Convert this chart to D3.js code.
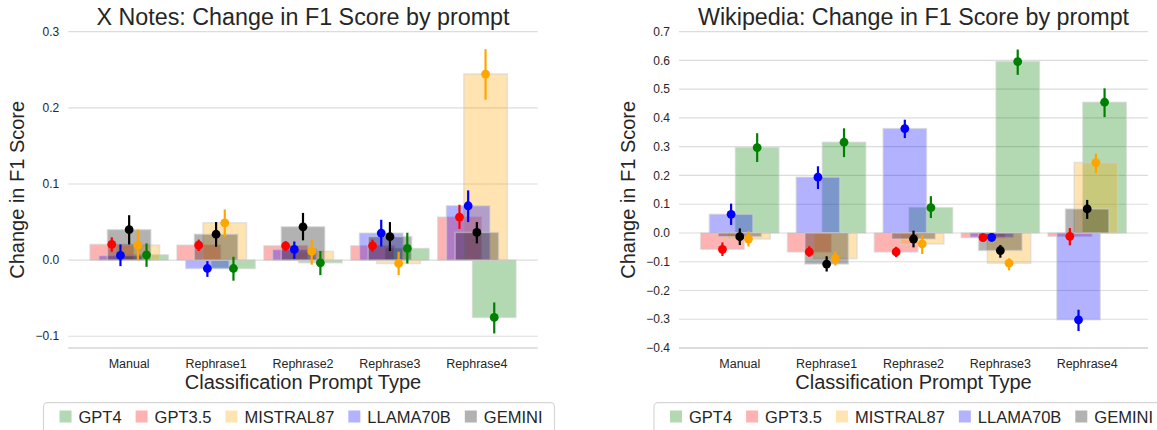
<!DOCTYPE html>
<html>
<head>
<meta charset="utf-8">
<script src="https://cdn.jsdelivr.net/npm/d3@7"></script>
<style>
  body { margin: 0; background: #fff; }
  svg { display: block; font-family: "Liberation Sans", Arial, sans-serif; }
</style>
</head>
<body>
<svg id="chart" width="1157" height="430"></svg>
<script>
// categories and series
const prompts = ["Manual", "Rephrase1", "Rephrase2", "Rephrase3", "Rephrase4"];
const models = ["GPT4", "GPT3.5", "MISTRAL87", "LLAMA70B", "GEMINI"];
const modelColors = ["green", "red", "orange", "blue", "black"];
// order of the bars inside a group, left to right
const dodgeOrder = ["GPT3.5", "LLAMA70B", "GEMINI", "MISTRAL87", "GPT4"];

// X Notes
const xnotesGPT4 = [0.007, -0.011, -0.0035, 0.0153, -0.0753];
const xnotesGPT35 = [0.0206, 0.0197, 0.0188, 0.0188, 0.0565];
const xnotesMistral = [0.0197, 0.049, 0.0114, -0.0044, 0.2444];
const xnotesLlama = [0.0061, -0.011, 0.014, 0.0355, 0.0714];
const xnotesGemini = [0.040, 0.034, 0.0438, 0.031, 0.0364];
const xnotesGPT4Err = [[-0.0088, 0.022], [-0.027, 0.0044], [-0.0197, 0.012], [-0.0044, 0.036], [-0.0963, -0.0556]];
const xnotesGPT35Err = [[0.011, 0.030], [0.012, 0.027], [0.012, 0.025], [0.011, 0.027], [0.041, 0.0727]];
const xnotesMistralErr = [[0.0, 0.040], [0.0306, 0.0666], [-0.006, 0.027], [-0.0197, 0.011], [0.2107, 0.277]];
const xnotesLlamaErr = [[-0.0079, 0.0206], [-0.022, -0.0013], [0.0017, 0.0245], [0.018, 0.053], [0.050, 0.0916]];
const xnotesGeminiErr = [[0.0206, 0.059], [0.0175, 0.050], [0.026, 0.062], [0.012, 0.050], [0.022, 0.050]];
const xnotesTicks = [-0.1, 0.0, 0.1, 0.2, 0.3];

// Wikipedia
const wikiGPT4 = [0.297, 0.3155, 0.088, 0.596, 0.4546];
const wikiGPT35 = [-0.0567, -0.066, -0.066, -0.016, -0.0115];
const wikiMistral = [-0.021, -0.089, -0.038, -0.105, 0.245];
const wikiLlama = [0.065, 0.194, 0.363, -0.015, -0.302];
const wikiGemini = [-0.0127, -0.108, -0.021, -0.061, 0.0835];
const wikiGPT4Err = [[0.247, 0.347], [0.264, 0.364], [0.052, 0.128], [0.550, 0.638], [0.403, 0.503]];
const wikiGPT35Err = [[-0.080, -0.033], [-0.083, -0.046], [-0.084, -0.048], [-0.031, -0.001], [-0.043, 0.017]];
const wikiMistralErr = [[-0.047, 0.007], [-0.113, -0.064], [-0.073, -0.009], [-0.130, -0.088], [0.209, 0.276]];
const wikiLlamaErr = [[0.028, 0.102], [0.153, 0.232], [0.330, 0.394], [-0.030, 0.000], [-0.341, -0.267]];
const wikiGeminiErr = [[-0.042, 0.016], [-0.134, -0.081], [-0.050, 0.008], [-0.086, -0.042], [0.049, 0.115]];
const wikiTicks = [-0.4, -0.3, -0.2, -0.1, 0.0, 0.1, 0.2, 0.3, 0.4, 0.5, 0.6, 0.7];

const svg = d3.select("#chart");
const fmt = d3.format(".1f");

function drawPanel(cfg) {
    const g = svg.append("g");
    const x = d3.scaleLinear().domain([-0.7, prompts.length - 0.3]).range([cfg.left, cfg.right]);
    const dodge = d3.scalePoint().domain(dodgeOrder).range([-0.2, 0.2]);
    const y = d3.scaleLinear().domain(cfg.yDomain).range([348, 31.7]);
    const barW = x(0.5) - x(0);

    // grid
    g.selectAll("line.grid").data(cfg.ticks).join("line")
        .attr("x1", cfg.left).attr("x2", cfg.right)
        .attr("y1", d => y(d)).attr("y2", d => y(d))
        .attr("stroke", "#dcdcdc").attr("stroke-width", 1.2);
    g.append("line")
        .attr("x1", cfg.left).attr("x2", cfg.right)
        .attr("y1", y(cfg.yDomain[0])).attr("y2", y(cfg.yDomain[0]))
        .attr("stroke", "#d6d6d6").attr("stroke-width", 1.4);

    // y tick labels
    g.selectAll("text.ytick").data(cfg.ticks).join("text")
        .attr("x", cfg.left - 9).attr("y", d => y(d)).attr("dy", "0.35em")
        .attr("text-anchor", "end").attr("font-size", 12).attr("fill", "#262626")
        .text(d => fmt(d));

    // x tick labels
    g.selectAll("text.xtick").data(prompts).join("text")
        .attr("x", (d, i) => x(i)).attr("y", 367.5)
        .attr("text-anchor", "middle").attr("font-size", 12.5).attr("fill", "#262626")
        .text(d => d);

    // bars
    models.forEach((m, k) => {
        const vals = cfg.values[k];
        g.selectAll(null).data(vals).join("rect")
            .attr("x", (d, i) => x(i + dodge(m)) - barW / 2)
            .attr("width", barW)
            .attr("y", d => y(Math.max(0, d)))
            .attr("height", d => Math.abs(y(d) - y(0)))
            .attr("fill", modelColors[k]).attr("fill-opacity", 0.3)
            .attr("stroke", "#cfcfcf").attr("stroke-opacity", 0.55).attr("stroke-width", 1.5);
    });

    // error bars and points
    models.forEach((m, k) => {
        const vals = cfg.values[k];
        const errs = cfg.errors[k];
        g.selectAll(null).data(errs).join("line")
            .attr("x1", (d, i) => x(i + dodge(m))).attr("x2", (d, i) => x(i + dodge(m)))
            .attr("y1", d => y(d[0])).attr("y2", d => y(d[1]))
            .attr("stroke", modelColors[k]).attr("stroke-width", 2.2);
        g.selectAll(null).data(vals).join("circle")
            .attr("cx", (d, i) => x(i + dodge(m))).attr("cy", d => y(d))
            .attr("r", 4.4).attr("fill", modelColors[k]);
    });

    const mid = (cfg.left + cfg.right) / 2;
    g.append("text").attr("x", mid).attr("y", 24.5).attr("text-anchor", "middle")
        .attr("font-size", 23.3).attr("fill", "#262626").text(cfg.title);
    g.append("text").attr("x", mid).attr("y", 389.3).attr("text-anchor", "middle")
        .attr("font-size", 20).attr("fill", "#262626").text("Classification Prompt Type");
    g.append("text")
        .attr("transform", `translate(${cfg.labelX},189.8) rotate(-90)`)
        .attr("text-anchor", "middle").attr("font-size", 20).attr("fill", "#262626")
        .text("Change in F1 Score");

    // legend
    const lg = g.append("g");
    const box = lg.append("rect");
    const gap = 14;
    let cx = 0;
    const items = lg.selectAll("g.item").data(models).join("g");
    items.each(function(d, k) {
        const it = d3.select(this);
        it.append("rect").attr("x", cx).attr("y", -12).attr("width", 12).attr("height", 12)
            .attr("fill", modelColors[k]).attr("fill-opacity", 0.3);
        const t = it.append("text").attr("x", cx + 19).attr("y", 0)
            .attr("font-size", 16.5).attr("fill", "#262626").text(d);
        cx += 19 + t.node().getComputedTextLength() + gap;
    });
    const contentW = cx - gap;
    const padL = 16, padR = 12;
    const boxW = contentW + padL + padR;
    const bx = mid - 4 - boxW / 2;
    lg.attr("transform", `translate(${bx + padL},422.5)`);
    box.attr("x", -padL).attr("y", 402.7 - 422.5).attr("width", boxW).attr("height", 60)
        .attr("rx", 4).attr("fill", "#fff").attr("stroke", "#d6d6d6").attr("stroke-width", 1.2);
}

drawPanel({
    title: "X Notes: Change in F1 Score by prompt",
    left: 68.3, right: 537.7, labelX: 24,
    yDomain: [-0.1154, 0.3], ticks: xnotesTicks,
    values: [xnotesGPT4, xnotesGPT35, xnotesMistral, xnotesLlama, xnotesGemini],
    errors: [xnotesGPT4Err, xnotesGPT35Err, xnotesMistralErr, xnotesLlamaErr, xnotesGeminiErr]
});
drawPanel({
    title: "Wikipedia: Change in F1 Score by prompt",
    left: 679, right: 1148, labelX: 634.5,
    yDomain: [-0.4, 0.7], ticks: wikiTicks,
    values: [wikiGPT4, wikiGPT35, wikiMistral, wikiLlama, wikiGemini],
    errors: [wikiGPT4Err, wikiGPT35Err, wikiMistralErr, wikiLlamaErr, wikiGeminiErr]
});
</script>
</body>
</html>
